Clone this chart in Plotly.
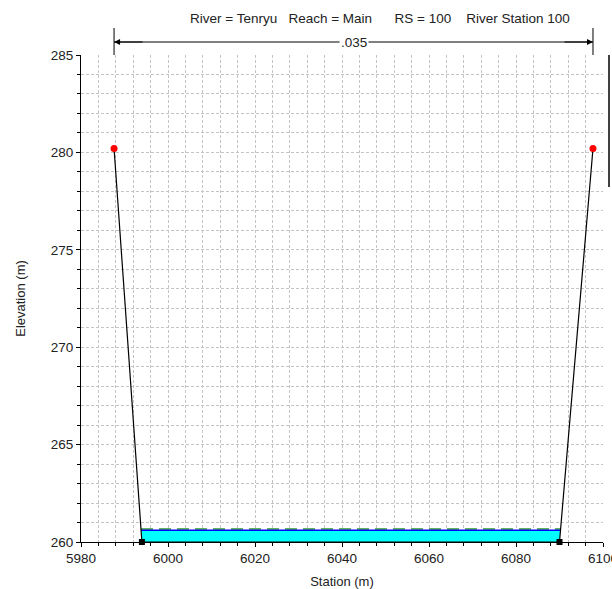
import plotly.graph_objects as go

# ---- data ----
station = [5987.6, 5994.0, 6090.0, 6097.7]
elevation = [280.2, 260.0, 260.0, 280.2]
bank_station = [5987.6, 6097.7]
bank_elev = [280.2, 280.2]
toe_station = [5994.0, 6090.0]
toe_elev = [260.0, 260.0]
ws_elev = 260.6
eg_elev = 260.67
n_label = ".035"
title_text = "River = Tenryu   Reach = Main      RS = 100    River Station 100"
x_range = [5980, 6100]
y_range = [260, 285]


def interp_x(x0, y0, x1, y1, y):
    return x0 + (x1 - x0) * (y - y0) / (y1 - y0)


# water edges where the WS meets the ground
wl = interp_x(station[0], elevation[0], station[1], elevation[1], ws_elev)
wr = interp_x(station[2], elevation[2], station[3], elevation[3], ws_elev)
el = interp_x(station[0], elevation[0], station[1], elevation[1], eg_elev)
er = interp_x(station[2], elevation[2], station[3], elevation[3], eg_elev)

FONT = "Liberation Sans, Arial"
FS = 13.5
TXT = "#222"

fig = go.Figure()

# water fill
fig.add_trace(go.Scatter(
    x=[station[1], station[2], wr, wl, station[1]],
    y=[elevation[1], elevation[2], ws_elev, ws_elev, elevation[1]],
    fill="toself", fillcolor="#00ffff", mode="lines",
    line=dict(width=0, color="#00ffff"), hoverinfo="skip", showlegend=False))
# EG line
fig.add_trace(go.Scatter(
    x=[el, er], y=[eg_elev, eg_elev], mode="lines",
    line=dict(color="#2e9a2e", width=1.5, dash="12px,6px"), showlegend=False))
# WS line
fig.add_trace(go.Scatter(
    x=[wl, wr], y=[ws_elev, ws_elev], mode="lines",
    line=dict(color="#0000ff", width=1.5), showlegend=False))
# ground
fig.add_trace(go.Scatter(
    x=station, y=elevation, mode="lines",
    line=dict(color="black", width=1.2), showlegend=False))
fig.add_trace(go.Scatter(
    x=toe_station, y=toe_elev, mode="markers",
    marker=dict(symbol="square", color="black", size=6), cliponaxis=False,
    showlegend=False))
fig.add_trace(go.Scatter(
    x=bank_station, y=bank_elev, mode="markers",
    marker=dict(symbol="circle", color="#ff0000", size=7), cliponaxis=False,
    showlegend=False))

L, R, T, B = 81, 603, 55, 542
W, H = 612, 589


def py(p):
    return (B - p) / (B - T)


def px(p):
    return (p - L) / (R - L)


# Manning's n arrow
y_arrow = py(42)
mid = (bank_station[0] + bank_station[1]) / 2
for xe in bank_station:
    fig.add_shape(type="line", xref="x", yref="paper", x0=xe, x1=xe,
                  y0=py(55), y1=py(28), line=dict(color="black", width=1))
fig.add_shape(type="line", xref="x", yref="paper", x0=bank_station[0], x1=bank_station[1],
              y0=y_arrow, y1=y_arrow, line=dict(color="black", width=1))
for xe, ax in [(bank_station[0], 30), (bank_station[1], -30)]:
    fig.add_annotation(x=xe, y=y_arrow, xref="x", yref="paper", text="",
                       showarrow=True, arrowhead=2, arrowsize=1, arrowwidth=1.2,
                       arrowcolor="black", ax=ax, ay=0, standoff=0)
fig.add_annotation(x=mid, y=y_arrow, xref="x", yref="paper", text=n_label,
                   showarrow=False, bgcolor="white", borderpad=1,
                   xanchor="center", yanchor="middle",
                   font=dict(family=FONT, size=FS, color=TXT))
fig.add_annotation(x=px(380), y=py(18), xref="paper", yref="paper", text=title_text,
                   showarrow=False, xanchor="center", yanchor="middle",
                   font=dict(family=FONT, size=FS, color=TXT))
# right edge legend bar
fig.add_shape(type="line", xref="paper", yref="paper", x0=px(609), x1=px(609),
              y0=py(55), y1=py(187), line=dict(color="black", width=1.5))

grid = dict(gridcolor="#c4c4c4", griddash="3px,2px", gridwidth=1)
fig.update_xaxes(
    range=x_range, dtick=20, tick0=5980, showline=True, linecolor="black", linewidth=1,
    ticks="outside", ticklen=4, tickcolor="black", zeroline=False, automargin=False,
    ticklabeloverflow="allow",
    minor=dict(dtick=4, showgrid=True, ticks="outside", ticklen=3, tickcolor="black", **grid),
    title=dict(text="Station (m)", standoff=14,
               font=dict(family=FONT, size=13, color=TXT)),
    tickfont=dict(family=FONT, size=FS, color=TXT),
    **grid)
fig.update_yaxes(
    range=y_range, dtick=5, tick0=260, showline=True, linecolor="black", linewidth=1,
    ticks="outside", ticklen=4, tickcolor="black", zeroline=False, automargin=False,
    ticklabeloverflow="allow",
    minor=dict(dtick=1, showgrid=True, ticks="outside", ticklen=3, tickcolor="black", **grid),
    title=dict(text="Elevation (m)", standoff=22,
               font=dict(family=FONT, size=13, color=TXT)),
    tickfont=dict(family=FONT, size=FS, color=TXT),
    **grid)

fig.update_layout(
    width=W, height=H, plot_bgcolor="white", paper_bgcolor="white",
    margin=dict(l=L, r=W - R, t=T, b=H - B), showlegend=False)

fig.write_html("out.html")
